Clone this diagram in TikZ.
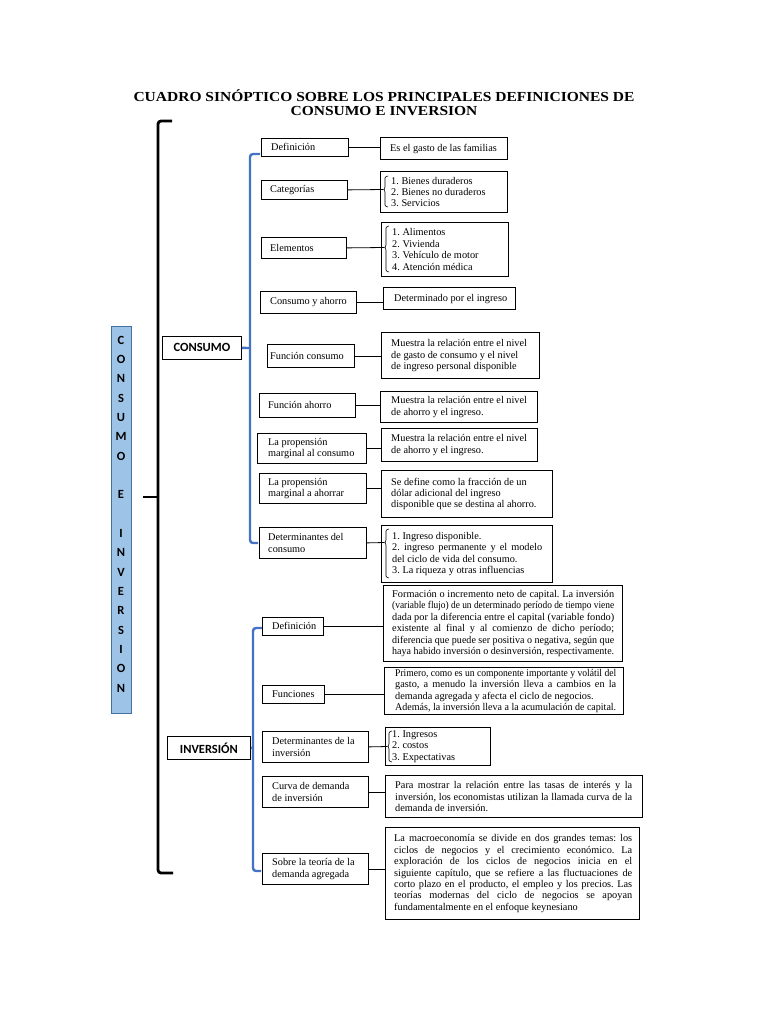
\documentclass[tikz,border=0pt]{standalone}
\usepackage{fontspec}
\usepackage{graphicx}
\setmainfont{Liberation Serif}
\newfontfamily\carl{Carlito}
\usetikzlibrary{calc}
\definecolor{bracketblue}{HTML}{4472C4}
\definecolor{sidefill}{HTML}{9DC3E6}
\definecolor{sidedraw}{HTML}{41719C}
\newsavebox\jbox
\newlength\jtarget
\newcommand\J[1]{\setlength\jtarget{\mytw pt}\sbox\jbox{#1}\ifdim\wd\jbox>\jtarget\relax\resizebox{\jtarget}{\height}{\usebox\jbox}\else\makebox[\jtarget][s]{#1}\fi}
\newcommand\K[1]{\setlength\jtarget{\mytw pt}\sbox\jbox{#1}\ifdim\wd\jbox>\jtarget\relax\resizebox{\jtarget}{\height}{\usebox\jbox}\else\usebox\jbox\fi}
\newcommand\bx[9]{\pgfmathsetmacro\mytw{#5-#7-#8}\node[#1,minimum width=#5pt,minimum height=#6pt] (#2) at (#3,#4) {};\node[txt] (#2t) at ($(#2.west)+(#7,0)$) {#9};}
\newcommand\sbr[5]{\draw[smallbr] (#2+3,#3) -- (#2,#3+1) -- (#2,#5-1.5) -- (#2-1.5,#5) -- (#2,#5+1.5) -- (#2,#4-1) -- (#2+3,#4); \coordinate (#1) at (#2-1.5,#5);}
\begin{document}
\begin{tikzpicture}[x=1pt,y=-1pt,
 lbox/.style={draw=black,line width=0.8pt,inner sep=0pt,anchor=north west},
 abox/.style={draw=black,line width=1.1pt,inner sep=0pt,anchor=north west},
 txt/.style={inner sep=0pt,align=left,anchor=west,font=\fontsize{10.3}{11.4}\selectfont\frenchspacing},
 conn/.style={draw=black,line width=0.8pt},
 bluebr/.style={draw=bracketblue,line width=2.4pt,rounded corners=3pt},
 blackbr/.style={draw=black,line width=2.8pt,rounded corners=3pt},
 smallbr/.style={draw=black,line width=0.6pt,rounded corners=1pt},
 catbox/.style={draw=black,line width=0.8pt,font=\carl\bfseries\fontsize{12.5}{14}\selectfont,anchor=north west,inner sep=0pt}]
\useasboundingbox (0,0) rectangle (768,1024);
\fill[white] (0,0) rectangle (768,1024);

\node[font=\bfseries\fontsize{13.8}{14}\selectfont,align=center,inner sep=0pt] (title) at (384,103) {\scalebox{1.123}[1]{CUADRO SINÓPTICO SOBRE LOS PRINCIPALES DEFINICIONES DE}\\\scalebox{1.123}[1]{CONSUMO E INVERSION}};

% black bracket
\coordinate (bt) at (172,121);
\coordinate (bb) at (173,873);
\coordinate (bm) at (143,497);
\draw[blackbr] (bt) -- (158,121) -- (158,873) -- (bb);
\draw[blackbr] (158,497) -- (bm);

% side vertical title
\node[draw=sidedraw,fill=sidefill,line width=0.8pt,minimum width=20pt,minimum height=387pt,anchor=north west,inner sep=0pt] (vbox) at (111,326) {};
\node[font=\carl\bfseries\fontsize{12.5}{19.33}\selectfont,align=center,inner sep=0pt] (vtext) at (121,514) {C\\O\\N\\S\\U\\M\\O\\\mbox{}\\E\\\mbox{}\\I\\N\\V\\E\\R\\S\\I\\O\\N};

% category boxes
\node[catbox,minimum width=79pt,minimum height=23pt] (consumo) at (162,336) {CONSUMO};
\node[catbox,minimum width=83pt,minimum height=23pt] (inversion) at (167,736) {INVERSIÓN};

% blue brackets
\draw[bluebr] (260,154) -- (250,154) -- (250,543) -- (258,543);
\draw[bluebr] (250,348) -- (consumo.east);
\draw[bluebr] (262,628) -- (253,628) -- (253,871) -- (261,871);
\draw[bluebr] (253,748) -- (inversion.east);

% CONSUMO left boxes
\bx{lbox}{c1}{261}{138}{87}{18}{10}{4}{Definición}
\bx{lbox}{c2}{261}{180}{86}{19}{9}{4}{Categorías}
\bx{lbox}{c3}{261}{237}{85}{21}{9}{4}{Elementos}
\bx{lbox}{c4}{260}{291}{96}{22}{10}{4}{Consumo y ahorro}
\bx{lbox}{c5}{267}{344}{87}{23}{3}{4}{Función consumo}
\bx{lbox}{c6}{259}{393}{96}{24}{9}{4}{Función ahorro}
\bx{lbox}{c7}{257}{433}{109}{30}{11}{4}{La propensión\\marginal al consumo}
\bx{lbox}{c8}{259}{473}{107}{30}{9}{4}{La propensión\\marginal a ahorrar}
\bx{lbox}{c9}{259}{527}{107}{31}{9}{4}{Determinantes del\\consumo}

% CONSUMO answer boxes
\bx{abox}{d1}{380}{137}{127}{22}{10}{4}{Es el gasto de las familias}
\bx{abox}{d2}{380}{171}{127}{41}{11}{4}{1. Bienes duraderos\\2. Bienes no duraderos\\3. Servicios}
\bx{abox}{d3}{381}{222}{127}{54}{11}{4}{1. Alimentos\\2. Vivienda\\3. Vehículo de motor\\4. Atención médica}
\bx{abox}{d4}{383}{287}{132}{22}{11}{4}{Determinado por el ingreso}
\bx{abox}{d5}{381}{332}{158}{46}{10}{4}{Muestra la relación entre el nivel\\de gasto de consumo y el nivel\\de ingreso personal disponible}
\bx{abox}{d6}{380}{391}{157}{31}{11}{4}{Muestra la relación entre el nivel\\de ahorro y el ingreso.}
\bx{abox}{d7}{381}{428}{156}{33}{10}{4}{Muestra la relación entre el nivel\\de ahorro y el ingreso.}
\bx{abox}{d8}{381}{470}{171}{47}{10}{4}{Se define como la fracción de un\\dólar adicional del ingreso\\disponible que se destina al ahorro.}
\bx{abox}{d9}{381}{525}{171}{57}{11}{10}{1. Ingreso disponible.\\\J{2. ingreso permanente y el modelo}\\del ciclo de vida del consumo.\\3. La riqueza y otras influencias}

% small brackets
\sbr{k2}{385}{176}{207}{189.5}
\sbr{k3}{386}{226}{272}{247.5}
\sbr{k9}{386}{529}{578}{542.5}

% CONSUMO connectors
\draw[conn] (c1.east) -- (c1.east -| d1.west);
\draw[conn] (c2.east) -- (k2);
\draw[conn] (c3.east) -- (k3);
\draw[conn] (c4.east) -- (c4.east -| d4.west);
\draw[conn] (c5.east) -- (c5.east -| d5.west);
\draw[conn] (c6.east) -- (c6.east -| d6.west);
\draw[conn] (c7.east) -- (c7.east -| d7.west);
\draw[conn] (c8.east) -- (c8.east -| d8.west);
\draw[conn] (c9.east) -- (k9);

% INVERSION left boxes
\bx{lbox}{i1}{262}{617}{61}{18}{10}{4}{Definición}
\bx{lbox}{i2}{262}{685}{62}{18}{10}{4}{Funciones}
\bx{lbox}{i3}{262}{731}{106}{31}{10}{4}{Determinantes de la\\inversión}
\bx{lbox}{i4}{262}{776}{106}{31}{10}{4}{Curva de demanda\\de inversión}
\bx{lbox}{i5}{262}{853}{106}{31}{10}{4}{Sobre la teoría de la\\demanda agregada}

% INVERSION answer boxes
\bx{abox}{j1}{383}{585}{239}{76}{9}{8}{\J{Formación o incremento neto de capital. La inversión}\\\J{(variable flujo) de un determinado período de tiempo viene}\\\J{dada por la diferencia entre el capital (variable fondo)}\\\J{existente al final y al comienzo de dicho período;}\\\J{diferencia que puede ser positiva o negativa, según que}\\\K{haya habido inversión o desinversión, respectivamente.}}
\bx{abox}{j2}{384}{667}{239}{47}{11}{7}{\J{Primero, como es un componente importante y volátil del}\\\J{gasto, a menudo la inversión lleva a cambios en la}\\demanda agregada y afecta el ciclo de negocios.\\\K{Además, la inversión lleva a la acumulación de capital.}}
\bx{abox}{j3}{385}{727}{105}{38}{7}{4}{1. Ingresos\\2. costos\\3. Expectativas}
\bx{abox}{j4}{385}{775}{257}{42}{10}{10}{\J{Para mostrar la relación entre las tasas de interés y la}\\\J{inversión, los economistas utilizan la llamada curva de la}\\demanda de inversión.}
\bx{abox}{j5}{385}{827}{254}{92}{9}{7}{\J{La macroeconomía se divide en dos grandes temas: los}\\\J{ciclos de negocios y el crecimiento económico. La}\\\J{exploración de los ciclos de negocios inicia en el}\\\J{siguiente capítulo, que se refiere a las fluctuaciones de}\\\J{corto plazo en el producto, el empleo y los precios. Las}\\\J{teorías modernas del ciclo de negocios se apoyan}\\fundamentalmente en el enfoque keynesiano}

\sbr{k13}{389}{731}{762}{746.5}

% INVERSION connectors
\draw[conn] (i1.east) -- (i1.east -| j1.west);
\draw[conn] (i2.east) -- (i2.east -| j2.west);
\draw[conn] (i3.east) -- (k13);
\draw[conn] (i4.east) -- (i4.east -| j4.west);
\draw[conn] (i5.east) -- (i5.east -| j5.west);
\end{tikzpicture}
\end{document}
